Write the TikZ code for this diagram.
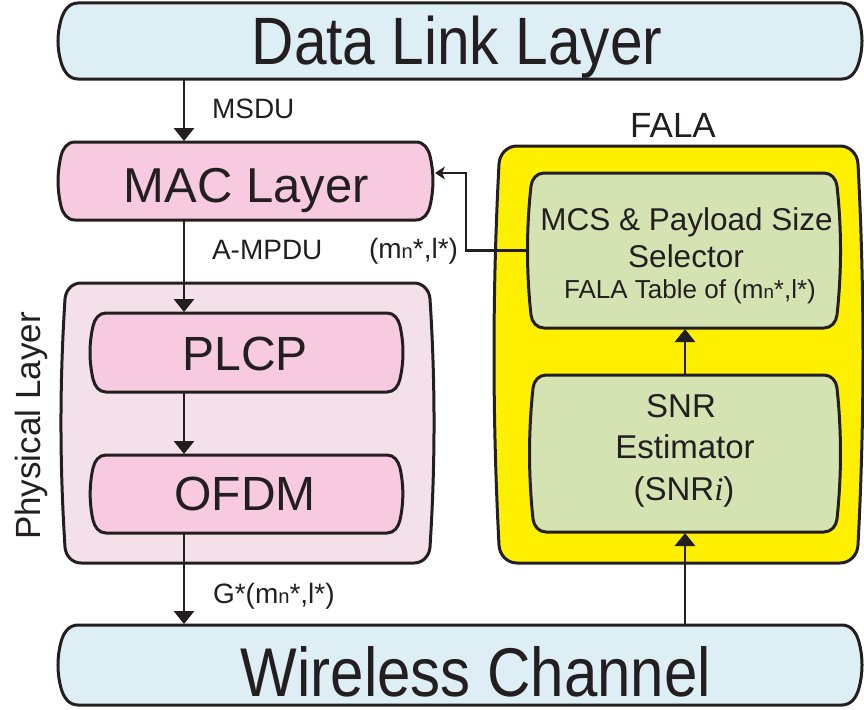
\documentclass[tikz,border=0pt]{standalone}
\usepackage{fontspec}
\usepackage{graphicx}
\setmainfont{Liberation Sans}
\newfontfamily\serifit{Liberation Serif}
\usetikzlibrary{arrows.meta,calc}

\definecolor{skyfill}{RGB}{221,238,245}
\definecolor{pinkfill}{RGB}{247,202,223}
\definecolor{palepink}{RGB}{243,224,233}
\definecolor{falayellow}{RGB}{255,240,0}
\definecolor{leafgreen}{RGB}{213,227,179}
\definecolor{inkline}{RGB}{35,31,32}

\newcommand\fsz[1]{\fontsize{#1}{#1}\selectfont}
\newcommand\mnsym{m\scalebox{0.72}{n}}

% box with rounded corners and slightly bulging sides, drawn around a node
% #1 node, #2 fill, #3 corner size, #4 side angle, #5 side control length
\newcommand\bulgebox[5]{%
  \path[boxline,fill=#2]
    ([xshift=#3]#1.north west) -- ([xshift=-#3]#1.north east)
    .. controls ([xshift={-0.448*#3}]#1.north east)
       and ([xshift={-0.552*#3*sin(#4)},yshift={-#3+0.552*#3*cos(#4)}]#1.north east)
    .. ([yshift=-#3]#1.north east)
    .. controls ([xshift={#5*tan(#4)},yshift={-#3-#5}]#1.north east)
       and ([xshift={#5*tan(#4)},yshift={#3+#5}]#1.south east)
    .. ([yshift=#3]#1.south east)
    .. controls ([xshift={-0.552*#3*sin(#4)},yshift={#3-0.552*#3*cos(#4)}]#1.south east)
       and ([xshift={-0.448*#3}]#1.south east)
    .. ([xshift=-#3]#1.south east)
    -- ([xshift=#3]#1.south west)
    .. controls ([xshift={0.448*#3}]#1.south west)
       and ([xshift={0.552*#3*sin(#4)},yshift={#3-0.552*#3*cos(#4)}]#1.south west)
    .. ([yshift=#3]#1.south west)
    .. controls ([xshift={-#5*tan(#4)},yshift={#3+#5}]#1.south west)
       and ([xshift={-#5*tan(#4)},yshift={-#3-#5}]#1.north west)
    .. ([yshift=-#3]#1.north west)
    .. controls ([xshift={0.552*#3*sin(#4)},yshift={-#3+0.552*#3*cos(#4)}]#1.north west)
       and ([xshift={0.448*#3}]#1.north west)
    .. ([xshift=#3]#1.north west) -- cycle;}

\begin{document}
\begin{tikzpicture}[x=1pt,y=-1pt,
  area/.style={rectangle,inner sep=0pt,outer sep=0pt},
  boxline/.style={draw=inkline,line width=3pt,line join=round},
  txt/.style={inner sep=0pt,outer sep=0pt,text=inkline},
  arr/.style={draw=inkline,line width=2.9pt,-{Triangle[width=20pt,length=13pt]},shorten >=1pt},
  fbarr/.style={draw=inkline,line width=2.9pt,-{Stealth[width=13pt,length=10pt,inset=3pt]}}]

\useasboundingbox (0,0) rectangle (864,709);

% block areas
\node[area,minimum width=798pt,minimum height=76pt] (dll) at (460,41) {};
\node[area,minimum width=369pt,minimum height=78pt] (mac) at (245.5,181) {};
\node[area,minimum width=365pt,minimum height=280pt] (phys) at (247.5,423) {};
\node[area,minimum width=307pt,minimum height=79pt] (plcp) at (246.5,352.5) {};
\node[area,minimum width=307pt,minimum height=78pt] (ofdm) at (246.5,494) {};
\node[area,minimum width=798pt,minimum height=80pt] (wc) at (460,665) {};
\node[area,minimum width=359pt,minimum height=417pt] (fala) at (678.5,354.5) {};
\node[area,minimum width=306pt,minimum height=155pt] (mcs) at (684,250.5) {};
\node[area,minimum width=304pt,minimum height=157pt] (snr) at (685,453.5) {};

% block outlines
\bulgebox{dll}{skyfill}{17pt}{16}{14pt}
\bulgebox{mac}{pinkfill}{14pt}{13}{17pt}
\bulgebox{phys}{palepink}{16pt}{3.7}{83pt}
\bulgebox{plcp}{pinkfill}{13pt}{12.5}{18pt}
\bulgebox{ofdm}{pinkfill}{13pt}{12.5}{17pt}
\bulgebox{wc}{skyfill}{17pt}{15}{15pt}
\bulgebox{fala}{falayellow}{18pt}{3}{127pt}
\bulgebox{mcs}{leafgreen}{13pt}{6.2}{43pt}
\bulgebox{snr}{leafgreen}{13pt}{6}{44pt}

% block titles
\node[txt,anchor=base] (tdll) at (457,65) {\fsz{67}\scalebox{0.875}[1]{Data Link Layer}};
\node[txt,anchor=base] (tmac) at (246.5,202) {\fsz{49}MAC Layer};
\node[txt,anchor=base] (tplcp) at (245,370) {\fsz{48}PLCP};
\node[txt,anchor=base] (tofdm) at (245,510) {\fsz{48}OFDM};
\node[txt,anchor=base] (twc) at (476,696) {\fsz{69}\scalebox{0.87}[1]{Wireless Channel}};
\node[txt,anchor=base,rotate=90] (tphys) at (40,426) {\fsz{35}Physical Layer};
\node[txt,anchor=base] (tfala) at (673,137) {\fsz{35}FALA};
\node[txt,anchor=base] (tmcsa) at (686.5,230) {\fsz{31.5}MCS \& Payload Size};
\node[txt,anchor=base] (tmcsb) at (686,267) {\fsz{31.5}Selector};
\node[txt,anchor=base] (tmcsc) at (690,298) {\fsz{26}FALA Table of (\mnsym*,l*)};
\node[txt,anchor=base] (tsnra) at (681,417) {\fsz{33}SNR};
\node[txt,anchor=base] (tsnrb) at (685,458) {\fsz{33}Estimator};
\node[txt,anchor=base] (tsnrc) at (684,500) {\fsz{33}(SNR{\serifit\itshape i})};

% connector labels
\node[txt,anchor=base west] (lmsdu) at (212,118) {\fsz{28}MSDU};
\node[txt,anchor=base west] (lampdu) at (212,259) {\fsz{28}A-MPDU};
\node[txt,anchor=base east] (lsel) at (458,258) {\fsz{28}(\mnsym*,l*)};
\node[txt,anchor=base west] (lgain) at (213,603) {\fsz{28}G*(\mnsym*,l*)};

% lanes for the vertical connectors
\coordinate (laneL) at (184,0);
\coordinate (laneR) at (685,0);
\coordinate (fbk) at (466,173);

\draw[arr] (dll.south -| laneL) -- (mac.north -| laneL);
\draw[arr] (mac.south -| laneL) -- (plcp.north -| laneL);
\draw[arr] (plcp.south -| laneL) -- (ofdm.north -| laneL);
\draw[arr] (ofdm.south -| laneL) -- (wc.north -| laneL);
\draw[arr] (wc.north -| laneR) -- (snr.south -| laneR);
\draw[arr] (snr.north -| laneR) -- (mcs.south -| laneR);
\draw[fbarr] ([xshift=-3pt]mcs.west) -| (fbk) -- ($(mac.east |- fbk)+(5,0)$);

\end{tikzpicture}
\end{document}
